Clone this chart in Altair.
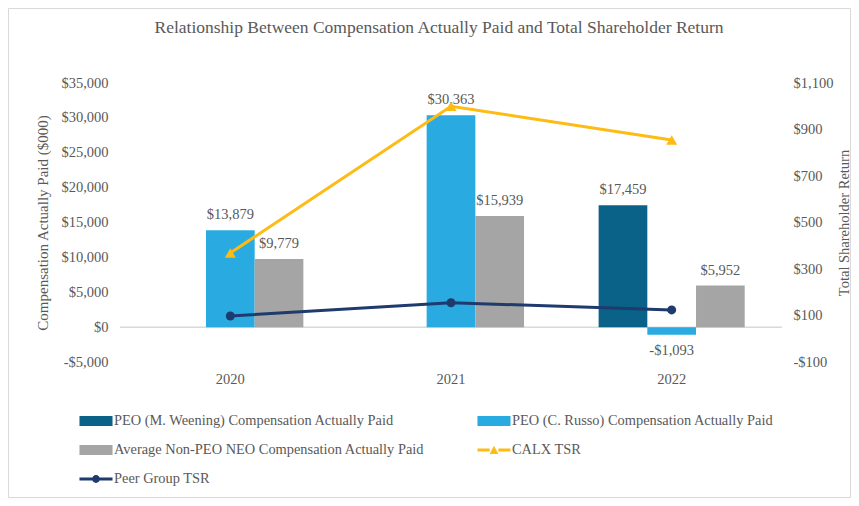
import altair as alt
import pandas as pd

# ---------------- data ----------------
years = ["2020", "2021", "2022"]
series_all = [
    "PEO (M. Weening) Compensation Actually Paid",
    "PEO (C. Russo) Compensation Actually Paid",
    "Average Non-PEO NEO Compensation Actually Paid",
    "CALX TSR",
    "Peer Group TSR",
]
bar_series = series_all[:3]
weening = [None, None, 17459]
russo = [13879, 30363, -1093]
non_peo = [9779, 15939, 5952]
calx_tsr = [369, 1000, 855]
peer_tsr = [98, 155, 124]

colors = ["#0B6289", "#29ABE2", "#A5A5A5", "#FDBB13", "#1F3A6D"]

# ---------------- tables ----------------
rows = []
for s, vals in zip(bar_series, [weening, russo, non_peo]):
    for y, v in zip(years, vals):
        if v is None:
            continue
        lab = ("-$" if v < 0 else "$") + f"{abs(v):,}"
        rows.append({"year": y, "series": s, "value": v, "label": lab})
bars_df = pd.DataFrame(rows)

trows = []
for s, vals in zip(series_all[3:], [calx_tsr, peer_tsr]):
    for y, v in zip(years, vals):
        trows.append({"year": y, "series": s, "tsr": v})
tsr_df = pd.DataFrame(trows)

FONT = "Liberation Serif"
GREY = "#595959"
W, H = 662, 279

x_enc = alt.X(
    "year:N",
    scale=alt.Scale(domain=years, paddingInner=0, paddingOuter=0),
    axis=alt.Axis(title=None, labelAngle=0, ticks=False, tickSize=0, domain=False,
                  labelPadding=10, labelFont=FONT, labelFontSize=14.5, labelColor=GREY),
)
xoff = alt.XOffset("series:N", scale=alt.Scale(domain=bar_series, paddingInner=0, paddingOuter=0.766))
# fill / stroke scales use a different domain order than the legend's colour scale
fill_scale = alt.Scale(domain=series_all[::-1], range=colors[::-1])
stroke_scale = alt.Scale(domain=series_all[3:], range=colors[3:])
fill_enc = alt.Fill("series:N", scale=fill_scale, legend=None)
stroke_enc = alt.Stroke("series:N", scale=stroke_scale, legend=None)

money_expr = "(datum.value < 0 ? '-$' : '$') + format(abs(datum.value), ',')"

y_left = alt.Y(
    "value:Q",
    scale=alt.Scale(domain=[-5000, 35000], nice=False, zero=False),
    axis=alt.Axis(
        orient="left", values=list(range(-5000, 35001, 5000)), labelExpr=money_expr,
        labelOverlap=False, grid=False, domain=False, ticks=False, tickSize=0,
        labelPadding=12, labelFont=FONT, labelFontSize=14.5, labelColor=GREY,
        title="Compensation Actually Paid ($000)", titleFont=FONT, titleFontSize=15,
        titleFontWeight="normal", titleColor=GREY, titleX=-78, titleY=H / 2,
        titleBaseline="middle", titleAngle=270,
    ),
)

y_right = alt.Y(
    "tsr:Q",
    scale=alt.Scale(domain=[-100, 1100], nice=False, zero=False),
    axis=alt.Axis(
        orient="right", values=list(range(-100, 1101, 200)), labelExpr=money_expr,
        labelOverlap=False, grid=False, domain=False, ticks=False, tickSize=0,
        labelPadding=11, labelFont=FONT, labelFontSize=14.5, labelColor=GREY,
        title="Total Shareholder Return", titleFont=FONT, titleFontSize=14.5,
        titleFontWeight="normal", titleColor=GREY, titleX=62, titleY=H / 2,
        titleBaseline="middle", titleAngle=270,
    ),
)

base_bars = alt.Chart(bars_df)

border = alt.Chart(pd.DataFrame({"a": [0]})).mark_rect(
    filled=False, stroke="#D9D9D9", strokeWidth=1
).encode(
    x=alt.value(-111.5), x2=alt.value(730.5), y=alt.value(-74.5), y2=alt.value(414.5)
)

zero_rule = alt.Chart(pd.DataFrame({"value": [0]})).mark_rule(
    color="#D9D9D9", strokeWidth=1.5
).encode(y=y_left)

bars = base_bars.mark_bar().encode(x=x_enc, xOffset=xoff, y=y_left, fill=fill_enc)

pos_text = base_bars.transform_filter("datum.value >= 0").mark_text(
    font=FONT, fontSize=14.5, color=GREY, baseline="middle", dy=-15
).encode(x=x_enc, xOffset=xoff, y=y_left, text="label:N")

neg_text = base_bars.transform_filter("datum.value < 0").mark_text(
    font=FONT, fontSize=14.5, color=GREY, baseline="middle", dy=16
).encode(x=x_enc, xOffset=xoff, y=y_left, text="label:N")

left = alt.layer(border, zero_rule, bars, pos_text, neg_text)

base_tsr = alt.Chart(tsr_df)
lines = base_tsr.mark_line(strokeWidth=3).encode(x=x_enc, y=y_right, stroke=stroke_enc)
calx_pts = base_tsr.transform_filter("datum.series == 'CALX TSR'").mark_point(
    filled=True, opacity=1, shape="triangle-up", size=120, strokeWidth=0
).encode(x=x_enc, y=y_right, fill=fill_enc)
peer_pts = base_tsr.transform_filter("datum.series == 'Peer Group TSR'").mark_point(
    filled=True, opacity=1, shape="circle", size=81, strokeWidth=0
).encode(x=x_enc, y=y_right, fill=fill_enc)

bar_sym = "M-1.14,-0.345H1.14V0.345H-1.14Z"
calx_sym = "M-1.14,-0.1H-0.3V0.1H-1.14Z M0.3,-0.1H1.14V0.1H0.3Z M-0.3,0.28L0,-0.3L0.3,0.28Z"
peer_sym = ("M-1.14,-0.1H-0.25V0.1H-1.14Z M0.25,-0.1H1.14V0.1H0.25Z "
            "M0.27,0A0.27,0.27,0,1,1,-0.27,0A0.27,0.27,0,1,1,0.27,0Z")

leg = alt.Legend(
    title=None, orient="none", legendX=-38.5, legendY=323.5, columns=2,
    direction="horizontal", columnPadding=52, rowPadding=8, symbolSize=841,
    labelOffset=3.5, symbolStrokeWidth=0, labelLimit=600, labelFont=FONT,
    labelFontSize=14.4, labelColor=GREY,
)
legend_layer = base_tsr.transform_filter("false").mark_point(
    filled=True, opacity=1, size=841
).encode(
    x=x_enc, y=y_right,
    color=alt.Color("series:N", scale=alt.Scale(domain=series_all, range=colors), legend=leg),
    shape=alt.Shape("series:N", scale=alt.Scale(domain=series_all,
                    range=[bar_sym, bar_sym, bar_sym, calx_sym, peer_sym]), legend=leg),
)

right = alt.layer(lines, calx_pts, peer_pts, legend_layer)

chart = alt.layer(left, right).resolve_scale(y="independent").properties(
    width=W, height=H,
    autosize=alt.AutoSizeParams(type="none"),
    padding={"left": 112, "top": 75, "right": 69, "bottom": 136},
    title=alt.TitleParams(
        "Relationship Between Compensation Actually Paid and Total Shareholder Return",
        font=FONT, fontSize=17.5, fontWeight="normal", color=GREY, anchor="middle",
        frame="group", baseline="middle", offset=0, dy=37.5, dx=-12,
    ),
).configure_view(strokeWidth=0).configure_axis(labelOverlap=False)

chart.save("out.html", embed_options={"renderer": "svg", "actions": False})
